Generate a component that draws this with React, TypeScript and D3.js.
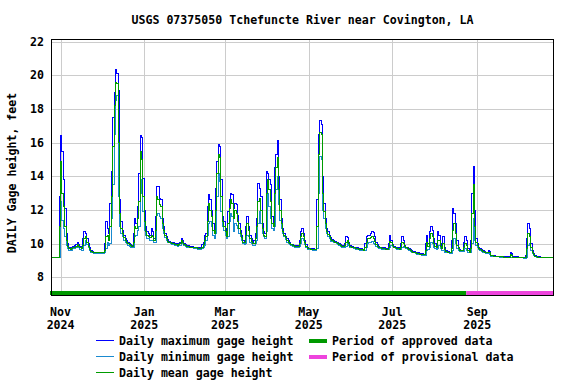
import React from "react";
import * as d3 from "d3";

const TITLE = "USGS 07375050 Tchefuncte River near Covington, LA";
const Y_LABEL = "DAILY Gage height, feet";
const START = Date.UTC(2024, 9, 25);
const DOMAIN_END = Date.UTC(2025, 9, 27);
const PROVISIONAL_START = Date.UTC(2025, 7, 24);
const DAY = 86400000;

const yTicks = [8, 10, 12, 14, 16, 18, 20, 22];
const xTickDates = [Date.UTC(2024, 10, 1), Date.UTC(2025, 0, 1), Date.UTC(2025, 2, 1), Date.UTC(2025, 4, 1), Date.UTC(2025, 6, 1), Date.UTC(2025, 8, 1)];
const xTickMonths = ["Nov", "Jan", "Mar", "May", "Jul", "Sep"];
const xTickYears = ["2024", "2025", "2025", "2025", "2025", "2025"];

// daily maximum gage height, one value per day from Oct 25, 2024
const maxHeight = [
  9.2, 9.2, 9.2, 9.2, 9.2, 9.2, 12.8, 16.45, 15.5, 13.8,
  12.1, 10.6, 10.0, 9.8, 9.75, 9.8, 9.85, 9.9, 9.95, 10.05,
  9.95, 9.85, 9.8, 10.3, 10.7, 10.6, 10.3, 10.0, 9.75, 9.6,
  9.52, 9.5, 9.5, 9.5, 9.5, 9.5, 9.5, 9.5, 9.5, 10.0,
  11.3, 10.9, 10.6, 12.4, 14.3, 17.5, 19.0, 20.35, 20.1, 19.1,
  12.6, 11.3, 10.8, 10.5, 10.3, 10.2, 10.1, 10.0, 9.95, 9.9,
  10.6, 11.5, 11.2, 12.2, 14.2, 16.45, 16.3, 13.9, 12.0, 11.0,
  10.7, 10.6, 10.5, 10.9, 10.7, 10.3, 11.6, 13.4, 13.4, 12.7,
  12.6, 11.5, 11.0, 10.6, 10.4, 10.25, 10.15, 10.1, 10.05, 10.05,
  10.0, 10.0, 9.95, 10.0, 10.1, 10.3, 10.2, 10.0, 9.95, 9.9,
  9.9, 9.85, 9.85, 9.85, 9.8, 9.8, 9.8, 9.75, 9.75, 9.75,
  9.95, 10.1, 10.5, 10.6, 12.2, 12.9, 12.6, 12.0, 11.2, 10.8,
  13.3, 14.9, 15.9, 15.75, 13.8, 11.6, 11.3, 10.9, 10.6, 11.9,
  12.6, 13.0, 12.9, 12.1, 12.4, 12.3, 11.7, 11.2, 10.8, 10.5,
  10.2, 10.15, 11.0, 11.6, 11.0, 10.5, 10.3, 10.1, 10.2, 10.6,
  11.5, 13.6, 13.3, 12.8, 11.2, 10.7, 10.6, 14.3, 14.2, 13.8,
  13.5, 11.6, 11.2, 14.5, 15.3, 16.15, 14.0, 12.6, 11.5, 10.9,
  10.6, 10.45, 10.3, 10.2, 10.05, 9.98, 9.95, 9.92, 9.9, 9.9,
  9.9, 10.2, 10.7, 10.9, 10.6, 10.2, 9.95, 9.75, 9.72, 9.7,
  9.7, 9.7, 9.68, 9.68, 12.6, 16.5, 17.3, 17.1, 14.0, 12.4,
  11.5, 10.9, 10.7, 10.5, 10.35, 10.25, 10.2, 10.15, 10.1, 10.05,
  10.0, 9.95, 9.9, 9.9, 10.0, 10.4, 10.35, 10.1, 9.9, 9.85,
  9.85, 9.8, 9.78, 9.75, 9.72, 9.7, 9.7, 9.68, 9.67, 10.0,
  10.4, 10.5, 10.5, 10.6, 10.7, 10.65, 10.4, 10.1, 9.95, 9.85,
  9.8, 9.77, 9.75, 9.75, 9.72, 9.7, 10.0, 10.5, 10.2, 9.95,
  9.85, 9.8, 9.77, 9.75, 9.72, 10.0, 10.4, 10.2, 9.9, 9.8,
  9.75, 9.7, 9.65, 9.6, 9.55, 9.55, 9.5, 9.47, 9.45, 9.42,
  9.4, 9.4, 9.38, 10.0, 10.5, 10.0, 10.7, 11.05, 10.8, 10.3,
  10.0, 9.9, 10.7, 10.5, 10.0, 9.8, 10.4, 9.8, 9.6, 9.55,
  9.52, 9.5, 10.2, 12.1, 11.8, 11.2, 10.2, 9.8, 9.65, 9.62,
  9.6, 10.1, 10.4, 10.2, 9.7, 9.6, 10.2, 13.0, 14.6, 12.0,
  10.3, 10.0, 9.75, 9.7, 9.65, 9.6, 9.55, 9.5, 9.48, 9.6,
  9.55, 9.32, 9.3, 9.29, 9.27, 9.27, 9.26, 9.25, 9.24, 9.24,
  9.23, 9.22, 9.22, 9.22, 9.22, 9.45, 9.4, 9.22, 9.22, 9.22,
  9.22, 9.2, 9.2, 9.2, 9.2, 9.2, 9.3, 10.3, 11.2, 10.9,
  10.0, 9.6, 9.4, 9.28, 9.25, 9.22, 9.22, 9.21, 9.2, 9.2,
  9.2, 9.2, 9.2, 9.2, 9.2, 9.2, 9.2,
];

// daily mean gage height
const meanHeight = [
  9.2, 9.2, 9.2, 9.2, 9.2, 9.2, 11.0, 14.9, 13.0, 12.2,
  11.0, 10.2, 9.85, 9.7, 9.65, 9.7, 9.75, 9.8, 9.85, 9.95,
  9.85, 9.75, 9.7, 9.9, 10.3, 10.4, 10.1, 9.85, 9.65, 9.55,
  9.48, 9.47, 9.46, 9.46, 9.45, 9.45, 9.45, 9.45, 9.45, 9.6,
  10.4, 10.5, 10.2, 11.0, 12.8, 15.8, 18.2, 19.6, 19.5, 16.0,
  11.8, 10.9, 10.6, 10.35, 10.2, 10.1, 10.0, 9.95, 9.9, 9.85,
  10.1, 11.0, 10.9, 11.5, 12.5, 15.5, 15.0, 12.8, 11.3, 10.7,
  10.5, 10.45, 10.35, 10.5, 10.4, 10.2, 10.8, 12.8, 12.6, 12.3,
  12.2, 11.2, 10.8, 10.5, 10.3, 10.15, 10.1, 10.05, 10.0, 10.0,
  9.95, 9.95, 9.9, 9.95, 10.0, 10.2, 10.1, 9.95, 9.9, 9.85,
  9.85, 9.8, 9.8, 9.8, 9.75, 9.75, 9.75, 9.7, 9.7, 9.7,
  9.8, 9.95, 10.2, 10.4, 11.3, 12.4, 12.0, 11.6, 10.8, 10.6,
  12.0, 14.2, 15.3, 15.1, 12.8, 11.3, 11.0, 10.7, 10.45, 11.2,
  12.1, 12.6, 12.4, 11.5, 12.0, 11.8, 11.3, 10.9, 10.6, 10.35,
  10.1, 10.05, 10.5, 11.2, 10.8, 10.3, 10.15, 10.0, 10.0, 10.3,
  11.0, 12.5, 12.7, 12.0, 10.9, 10.5, 10.45, 13.0, 13.8, 13.2,
  12.5, 11.2, 11.0, 13.0, 14.5, 15.1, 13.2, 12.0, 11.2, 10.75,
  10.5, 10.35, 10.2, 10.1, 10.0, 9.95, 9.9, 9.9, 9.85, 9.85,
  9.85, 10.0, 10.4, 10.6, 10.4, 10.1, 9.85, 9.7, 9.7, 9.68,
  9.66, 9.66, 9.65, 9.65, 11.0, 15.3, 16.6, 16.5, 13.0, 11.9,
  11.2, 10.75, 10.55, 10.4, 10.25, 10.2, 10.15, 10.1, 10.05, 10.0,
  9.95, 9.9, 9.85, 9.85, 9.9, 10.1, 10.2, 10.0, 9.85, 9.8,
  9.8, 9.75, 9.72, 9.7, 9.68, 9.66, 9.65, 9.63, 9.62, 9.75,
  10.1, 10.3, 10.3, 10.35, 10.4, 10.3, 10.15, 9.95, 9.85, 9.8,
  9.75, 9.72, 9.7, 9.7, 9.68, 9.67, 9.8, 10.15, 10.05, 9.9,
  9.8, 9.75, 9.72, 9.7, 9.68, 9.8, 10.1, 10.0, 9.85, 9.75,
  9.7, 9.65, 9.6, 9.55, 9.5, 9.5, 9.45, 9.42, 9.4, 9.38,
  9.35, 9.35, 9.33, 9.6, 10.1, 9.85, 10.3, 10.6, 10.4, 10.0,
  9.85, 9.8, 10.2, 10.2, 9.85, 9.7, 10.0, 9.65, 9.55, 9.5,
  9.48, 9.45, 9.7, 10.8, 11.2, 10.6, 9.9, 9.7, 9.6, 9.58,
  9.57, 9.8, 10.0, 9.9, 9.6, 9.5, 9.7, 11.8, 13.5, 11.0,
  10.1, 9.9, 9.7, 9.65, 9.6, 9.55, 9.5, 9.47, 9.45, 9.5,
  9.45, 9.3, 9.28, 9.27, 9.25, 9.25, 9.24, 9.23, 9.22, 9.22,
  9.21, 9.2, 9.2, 9.2, 9.2, 9.35, 9.3, 9.2, 9.2, 9.2,
  9.2, 9.18, 9.18, 9.18, 9.18, 9.18, 9.2, 9.7, 10.6, 10.4,
  9.8, 9.5, 9.35, 9.25, 9.22, 9.2, 9.2, 9.19, 9.18, 9.18,
  9.18, 9.18, 9.18, 9.18, 9.18, 9.18, 9.18,
];

// daily minimum gage height
const minHeight = [
  9.2, 9.2, 9.2, 9.2, 9.2, 9.2, 9.2, 12.5, 11.4, 10.9,
  10.4, 9.9, 9.7, 9.6, 9.6, 9.6, 9.7, 9.7, 9.8, 9.85,
  9.75, 9.65, 9.6, 9.6, 9.9, 10.2, 9.95, 9.75, 9.6, 9.5,
  9.45, 9.44, 9.43, 9.43, 9.42, 9.42, 9.42, 9.42, 9.42, 9.45,
  9.7, 10.1, 9.9, 10.0, 11.5, 13.5, 16.5, 18.5, 18.8, 12.8,
  11.0, 10.6, 10.4, 10.2, 10.1, 10.0, 9.9, 9.85, 9.8, 9.8,
  9.8, 10.4, 10.5, 10.8, 11.0, 13.8, 13.0, 11.9, 10.8, 10.5,
  10.3, 10.3, 10.2, 10.2, 10.2, 10.1, 10.1, 11.7, 11.8, 11.6,
  11.5, 10.9, 10.6, 10.35, 10.2, 10.05, 10.05, 10.0, 9.95, 9.95,
  9.9, 9.9, 9.85, 9.9, 9.9, 10.05, 10.0, 9.9, 9.85, 9.8,
  9.8, 9.75, 9.75, 9.75, 9.7, 9.7, 9.7, 9.65, 9.65, 9.65,
  9.7, 9.8, 9.9, 10.2, 10.5, 11.2, 11.3, 11.0, 10.5, 10.3,
  10.6, 12.8, 14.2, 13.7, 11.9, 11.0, 10.8, 10.5, 10.3, 10.4,
  11.3, 11.8, 11.6, 10.7, 11.2, 11.1, 10.9, 10.6, 10.4, 10.2,
  10.0, 9.95, 10.0, 10.5, 10.4, 10.1, 10.0, 9.9, 9.9, 10.0,
  10.2, 11.2, 11.9, 11.2, 10.6, 10.4, 10.3, 10.7, 13.0, 12.2,
  11.5, 10.9, 10.8, 11.0, 13.2, 14.0, 12.3, 11.4, 10.9, 10.6,
  10.4, 10.25, 10.1, 10.0, 9.95, 9.9, 9.85, 9.85, 9.8, 9.8,
  9.8, 9.85, 10.0, 10.3, 10.2, 9.95, 9.75, 9.65, 9.65, 9.64,
  9.63, 9.62, 9.62, 9.62, 9.7, 13.0, 15.2, 15.0, 12.0, 11.5,
  10.9, 10.6, 10.4, 10.3, 10.15, 10.15, 10.1, 10.05, 10.0, 9.95,
  9.9, 9.85, 9.8, 9.8, 9.8, 9.85, 10.0, 9.9, 9.8, 9.75,
  9.75, 9.7, 9.68, 9.65, 9.64, 9.62, 9.6, 9.6, 9.58, 9.6,
  9.8, 10.0, 10.1, 10.1, 10.15, 10.0, 9.95, 9.85, 9.75, 9.72,
  9.7, 9.68, 9.66, 9.65, 9.64, 9.63, 9.65, 9.8, 9.9, 9.82,
  9.75, 9.7, 9.68, 9.66, 9.64, 9.65, 9.8, 9.85, 9.78, 9.7,
  9.65, 9.6, 9.55, 9.5, 9.45, 9.45, 9.4, 9.38, 9.36, 9.34,
  9.32, 9.31, 9.3, 9.3, 9.6, 9.65, 9.8, 10.1, 10.0, 9.8,
  9.7, 9.65, 9.7, 9.9, 9.7, 9.6, 9.6, 9.5, 9.5, 9.45,
  9.45, 9.42, 9.42, 9.6, 10.3, 10.0, 9.7, 9.6, 9.55, 9.54,
  9.54, 9.55, 9.7, 9.6, 9.5, 9.45, 9.45, 10.0, 11.5, 10.2,
  9.9, 9.8, 9.65, 9.6, 9.55, 9.5, 9.45, 9.43, 9.4, 9.4,
  9.35, 9.27, 9.26, 9.25, 9.23, 9.23, 9.22, 9.21, 9.2, 9.2,
  9.19, 9.18, 9.18, 9.18, 9.18, 9.2, 9.2, 9.18, 9.18, 9.18,
  9.18, 9.16, 9.16, 9.16, 9.16, 9.15, 9.15, 9.2, 9.9, 10.0,
  9.6, 9.4, 9.3, 9.22, 9.2, 9.18, 9.18, 9.17, 9.16, 9.16,
  9.16, 9.16, 9.16, 9.16, 9.16, 9.16, 9.16,
];

const legendLines = [
  { label: "Daily maximum gage height", color: "#0000ff" },
  { label: "Daily minimum gage height", color: "#1a8ad0" },
  { label: "Daily mean gage height", color: "#009c00" },
];
const legendBars = [
  { label: "Period of approved data", color: "#009900" },
  { label: "Period of provisional data", color: "#ee44dd" },
];

const FONT = "'DejaVu Sans Mono', monospace";

export default function App() {
  const W = 576, H = 384;
  const left = 51, right = 554, top = 40, bottom = 296;
  const x = d3.scaleUtc().domain([START, DOMAIN_END]).range([left, right]);
  const y = d3.scaleLinear().domain([6.9, 22.1]).range([bottom - 0.1, top]);

  const toPts = (arr: number[]) => {
    const pts: [number, number][] = arr.map((v, i) => [x(START + i * DAY), y(v)]);
    pts.push([x(START + arr.length * DAY) - 1, y(arr[arr.length - 1])]);
    return pts;
  };
  const line = d3.line<[number, number]>().x((d) => d[0]).y((d) => d[1]).curve(d3.curveStepAfter);

  const series = [
    { data: maxHeight, color: legendLines[0].color },
    { data: minHeight, color: legendLines[1].color },
    { data: meanHeight, color: legendLines[2].color },
  ];

  const textStyle = { fontFamily: FONT, fontSize: "11.6px", fontWeight: "bold" as const, fill: "#000" };

  return (
    <svg width={W} height={H} style={{ display: "block", position: "absolute", left: 0, top: 0 }}>
      <rect x={0} y={0} width={W} height={H} fill="#fff" />
      <text x={(left + right) / 2} y={24} textAnchor="middle" style={textStyle}>{TITLE}</text>
      {/* grid */}
      {yTicks.map((t) => (
        <line key={"gy" + t} x1={left} x2={right} y1={Math.round(y(t)) + 0.5} y2={Math.round(y(t)) + 0.5} stroke="#cccccc" strokeWidth={1} />
      ))}
      {xTickDates.map((t) => (
        <line key={"gx" + t} x1={Math.round(x(t)) + 0.5} x2={Math.round(x(t)) + 0.5} y1={top} y2={bottom} stroke="#cccccc" strokeWidth={1} />
      ))}
      {/* data */}
      {series.map((s, i) => (
        <path key={i} d={line(toPts(s.data)) || ""} fill="none" stroke={s.color} strokeWidth={1} shapeRendering="crispEdges" />
      ))}
      {/* approval bar */}
      <rect x={left - 1} y={291} width={x(PROVISIONAL_START) - left + 1} height={4} fill={legendBars[0].color} />
      <rect x={x(PROVISIONAL_START)} y={291} width={right - x(PROVISIONAL_START)} height={4} fill={legendBars[1].color} />
      {/* frame */}
      <rect x={left + 0.5} y={top - 0.5} width={right - left - 1} height={bottom - top} fill="none" stroke="#000" strokeWidth={1} />
      {/* y ticks */}
      {yTicks.map((t) => (
        <text key={"ty" + t} x={44} y={y(t) + 4} textAnchor="end" style={textStyle}>{t}</text>
      ))}
      <text transform={`translate(16,${(top + bottom) / 2 + 5}) rotate(-90)`} textAnchor="middle" style={textStyle}>{Y_LABEL}</text>
      {/* x ticks */}
      {xTickDates.map((t, i) => (
        <g key={"tx" + t}>
          <text x={x(t)} y={316} textAnchor="middle" style={textStyle}>{xTickMonths[i]}</text>
          <text x={x(t)} y={329} textAnchor="middle" style={textStyle}>{xTickYears[i]}</text>
        </g>
      ))}
      {/* legend */}
      {legendLines.map((l, i) => (
        <g key={"ll" + i}>
          <line x1={96} x2={114} y1={340.5 + i * 16} y2={340.5 + i * 16} stroke={l.color} strokeWidth={1} />
          <text x={119} y={345 + i * 16} style={textStyle}>{l.label}</text>
        </g>
      ))}
      {legendBars.map((l, i) => (
        <g key={"lb" + i}>
          <rect x={309} y={339 + i * 16} width={18} height={4} fill={l.color} />
          <text x={332} y={345 + i * 16} style={textStyle}>{l.label}</text>
        </g>
      ))}
    </svg>
  );
}
